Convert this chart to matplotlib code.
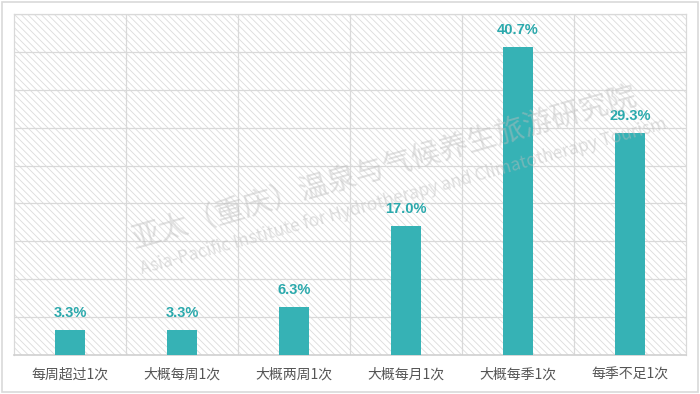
import matplotlib
matplotlib.use("Agg")
import matplotlib.pyplot as plt
from matplotlib.patches import Rectangle
import numpy as np

plt.rcParams['font.family'] = ['Noto Sans CJK SC', 'DejaVu Sans']
plt.rcParams['hatch.linewidth'] = 0.6
plt.rcParams['hatch.color'] = '#d9d9d9'

categories = ["每周超过1次", "大概每周1次", "大概两周1次", "大概每月1次", "大概每季1次", "每季不足1次"]
values = [3.3, 3.3, 6.3, 17.0, 40.7, 29.3]
labels = ["3.3%", "3.3%", "6.3%", "17.0%", "40.7%", "29.3%"]

bar_color = "#36b2b5"
label_color = "#2aa9ac"

fig = plt.figure(figsize=(7, 3.94), dpi=100)
fig.patches.append(Rectangle((0.003, 0.004), 0.994, 0.992, transform=fig.transFigure,
                             fill=False, edgecolor="#d9d9d9", linewidth=1.2))
ax = fig.add_axes([14 / 700, 1 - 355 / 394, 672 / 700, 341 / 394])

x = np.arange(len(categories))
ax.set_xlim(-0.5, len(categories) - 0.5)
ax.set_ylim(0, 45)

# hatched background
ax.add_patch(Rectangle((0, 0), 1, 1, transform=ax.transAxes, facecolor="white",
                       hatch="\\\\\\\\\\", edgecolor="#dcdcdc", linewidth=0, zorder=0))

# grid
for yv in np.arange(5, 46, 5):
    ax.axhline(yv, color="#d9d9d9", linewidth=0.9, zorder=1)
for xv in np.arange(0.5, len(categories) - 0.5, 1):
    ax.axvline(xv, color="#d9d9d9", linewidth=0.9, zorder=1)

ax.bar(x, values, width=0.27, color=bar_color, zorder=3)
for xi, v, lab in zip(x, values, labels):
    ax.text(xi, v + 1.3, lab, ha="center", va="bottom", color=label_color,
            fontsize=10.5, fontweight="bold", family=["Liberation Sans"], zorder=4)

# watermark
fig.text(137 / 700, 1 - 255 / 394, "亚太（重庆）温泉与气候养生旅游研究院", fontsize=21,
         color="#bdbdbd", alpha=0.45, rotation=16, fontweight="light",
         ha="left", va="bottom", rotation_mode="anchor", zorder=5)
fig.text(143 / 700, 1 - 278 / 394, "Asia-Pacific Institute for Hydrotherapy and Climatotherapy Tourism",
         fontsize=12.5, color="#bdbdbd", alpha=0.45, rotation=15.5,
         ha="left", va="bottom", rotation_mode="anchor", zorder=5)

ax.set_xticks(x)
ax.set_xticklabels(categories, fontsize=10, color="#555555")
ax.tick_params(axis="x", length=0, pad=9)
ax.set_yticks([])
for side in ["top", "right", "left"]:
    ax.spines[side].set_color("#d9d9d9")
    ax.spines[side].set_linewidth(0.9)
ax.spines["bottom"].set_color("#d0d0d0")
ax.spines["bottom"].set_linewidth(1.2)

fig.savefig("out.png", dpi=100)
